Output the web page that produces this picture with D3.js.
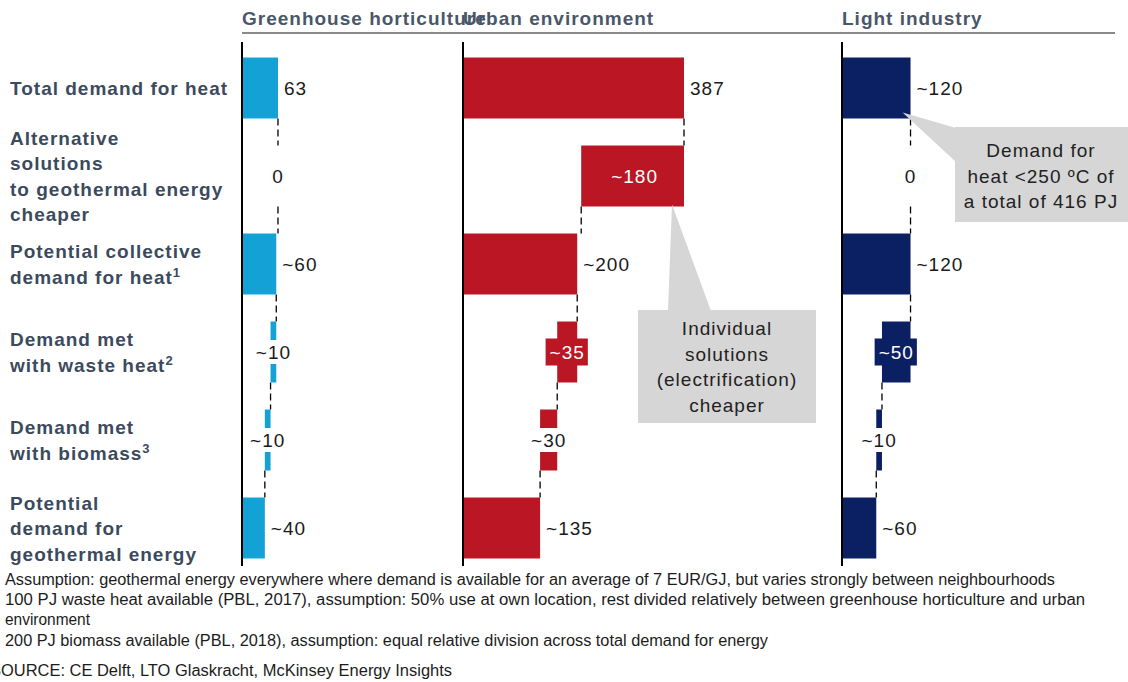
<!DOCTYPE html>
<html lang="en">
<head>
  <meta charset="UTF-8">
  <title>Geothermal heat demand waterfall</title>
  <script src="https://d3js.org/d3.v7.min.js"></script>
  <style>
    body {
      margin: 0;
      background: #fff;
      font-family: Arial, "Liberation Sans", sans-serif;
    }
    svg text {
      font-family: Arial, "Liberation Sans", sans-serif;
    }
    .header {
      font-size: 19px;
      font-weight: bold;
      fill: #4a5769;
      letter-spacing: 1px;
    }
    .rowlabel {
      font-size: 19px;
      font-weight: bold;
      fill: #3c4a5d;
      letter-spacing: 1px;
    }
    .value {
      font-size: 19px;
      fill: #1a1a1a;
      letter-spacing: 1px;
    }
    .callout text {
      font-size: 19px;
      fill: #222;
      letter-spacing: 1px;
    }
    .connector {
      stroke: #000;
      stroke-width: 1.3;
      stroke-dasharray: 7,4;
    }
    .note {
      font-size: 16px;
      fill: #1c1c1c;
    }
  </style>
</head>
<body>
<div id="chart"></div>
<script>
  // data
  const sectors = ["Greenhouse horticulture", "Urban environment", "Light industry"];
  const sectorColors = ["#14a2d6", "#bb1623", "#0b2062"];

  const rowLabels = [
    ["Total demand for heat"],
    ["Alternative", "solutions", "to geothermal energy", "cheaper"],
    ["Potential collective", "demand for heat"],
    ["Demand met", "with waste heat"],
    ["Demand met", "with biomass"],
    ["Potential", "demand for", "geothermal energy"]
  ];
  const rowNotes = ["", "", "1", "2", "3", ""];
  const rowKinds = ["total", "step", "total", "step", "step", "total"];

  const greenhouse = [63, 0, 60, 10, 10, 40];
  const urban = [387, 180, 200, 35, 30, 135];
  const light = [120, 0, 120, 50, 10, 60];

  const greenhouseLabels = ["63", "0", "~60", "~10", "~10", "~40"];
  const urbanLabels = ["387", "~180", "~200", "~35", "~30", "~135"];
  const lightLabels = ["~120", "0", "~120", "~50", "~10", "~60"];

  const calloutUrban = ["Individual", "solutions", "(electrification)", "cheaper"];
  const calloutLight = ["Demand for", "heat <250 \u00baC of", "a total of 416 PJ"];

  const footnotes = [
    "Assumption: geothermal energy everywhere where demand is available for an average of 7 EUR/GJ, but varies strongly between neighbourhoods",
    "100 PJ waste heat available (PBL, 2017), assumption: 50% use at own location, rest divided relatively between greenhouse horticulture and urban",
    "environment",
    "200 PJ biomass available (PBL, 2018), assumption: equal relative division across total demand for energy"
  ];
  const source = "SOURCE: CE Delft, LTO Glaskracht, McKinsey Energy Insights";

  const series = [greenhouse, urban, light];
  const seriesLabels = [greenhouseLabels, urbanLabels, lightLabels];

  // layout
  const width = 1128, height = 682;
  const panelX = [242, 463, 842];
  const axisTop = 42, axisBottom = 566;

  const svg = d3.select("#chart").append("svg")
    .attr("width", width)
    .attr("height", height);

  const x = d3.scaleLinear().domain([0, 387]).range([0, 221]);
  const y = d3.scaleBand()
    .domain(d3.range(rowLabels.length))
    .range([44, 572])
    .paddingInner(0.307)
    .paddingOuter(0.1535);
  const bw = y.bandwidth();
  const mid = i => y(i) + bw / 2;

  // header rule + titles
  svg.append("line")
    .attr("x1", 242).attr("x2", 1115)
    .attr("y1", 33).attr("y2", 33)
    .attr("stroke", "#8a8a8a").attr("stroke-width", 2);

  svg.selectAll(".header")
    .data(sectors)
    .enter()
    .append("text")
    .attr("class", "header")
    .attr("x", (d, i) => panelX[i])
    .attr("y", 25)
    .text(d => d);

  // row labels
  const lineH = 25.5;
  rowLabels.forEach((lines, i) => {
    const t = svg.append("text")
      .attr("class", "rowlabel")
      .attr("x", 10)
      .attr("y", mid(i) - (lines.length - 1) * lineH / 2 + 7);
    lines.forEach((ln, k) => {
      t.append("tspan")
        .attr("x", 10)
        .attr("dy", k === 0 ? 0 : lineH)
        .text(ln);
      if (k === lines.length - 1 && rowNotes[i]) {
        t.append("tspan")
          .attr("dy", -7)
          .attr("font-size", "13px")
          .text(rowNotes[i]);
      }
    });
  });

  function waterfall(vals) {
    let level = 0;
    return vals.map((v, i) => {
      let x0, x1;
      if (rowKinds[i] === "total") { x0 = 0; x1 = v; level = v; }
      else { x0 = level - v; x1 = level; level = level - v; }
      return { i, v, x0, x1, level };
    });
  }

  series.forEach((vals, s) => {
    const g = svg.append("g").attr("transform", `translate(${panelX[s]},0)`);
    const color = sectorColors[s];
    const rows = waterfall(vals);

    // connectors
    g.selectAll(".connector")
      .data(rows.slice(0, -1))
      .enter()
      .append("line")
      .attr("class", "connector")
      .attr("x1", d => x(d.level)).attr("x2", d => x(d.level))
      .attr("y1", d => y(d.i) + bw)
      .attr("y2", d => y(d.i + 1));

    // bars
    g.selectAll(".bar")
      .data(rows.filter(d => d.v > 0))
      .enter()
      .append("rect")
      .attr("class", "bar")
      .attr("x", d => x(d.x0))
      .attr("y", d => y(d.i))
      .attr("width", d => x(d.x1) - x(d.x0))
      .attr("height", bw)
      .attr("fill", color);

    // axis line
    g.append("line")
      .attr("x1", 0).attr("x2", 0)
      .attr("y1", axisTop).attr("y2", axisBottom)
      .attr("stroke", "#000").attr("stroke-width", 2);

    // value labels
    rows.forEach(d => {
      const lbl = seriesLabels[s][d.i];
      const cy = mid(d.i) + 7;
      if (d.v === 0) {
        g.append("text").attr("class", "value")
          .attr("x", x(d.level)).attr("y", cy)
          .attr("text-anchor", "middle").text(lbl);
        return;
      }
      if (rowKinds[d.i] === "total") {
        g.append("text").attr("class", "value")
          .attr("x", x(d.x1) + 6).attr("y", cy)
          .text(lbl);
        return;
      }
      const cx = (x(d.x0) + x(d.x1)) / 2;
      const w = x(d.x1) - x(d.x0);
      if (w > 60) {
        g.append("text").attr("class", "value")
          .attr("x", cx + 2).attr("y", cy)
          .attr("text-anchor", "middle")
          .style("fill", "#fff")
          .text(lbl);
        return;
      }
      // small steps: coloured badge or white knock-out behind the label
      const badge = d.v >= 35;
      const bg = g.append("rect");
      const t = g.append("text").attr("class", "value")
        .attr("x", cx).attr("y", cy)
        .attr("text-anchor", "middle")
        .text(lbl);
      if (badge) t.style("fill", "#fff");
      const tw = t.node().getComputedTextLength();
      const bh = badge ? 27 : 24;
      bg.attr("x", cx - tw / 2 - (badge ? 4 : 2))
        .attr("width", tw + (badge ? 7 : 4))
        .attr("y", mid(d.i) - bh / 2)
        .attr("height", bh)
        .attr("fill", badge ? color : "#fff");
    });
  });

  // callouts
  const urbanRows = waterfall(urban);
  const lightRows = waterfall(light);
  const callGray = "#d6d6d6";

  const c1 = svg.append("g").attr("class", "callout");
  const tip1 = [panelX[1] + x(urbanRows[1].x1) - 12, y(1) + bw - 2];
  c1.append("polygon")
    .attr("points", [[668, 311], [711, 311], tip1].map(p => p.join(",")).join(" "))
    .attr("fill", callGray);
  c1.append("rect")
    .attr("x", 638).attr("y", 310).attr("width", 178).attr("height", 113)
    .attr("fill", callGray);
  c1.selectAll("text")
    .data(calloutUrban)
    .enter()
    .append("text")
    .attr("x", 727)
    .attr("y", (d, k) => 335 + k * 25.7)
    .attr("text-anchor", "middle")
    .text(d => d);

  const c2 = svg.append("g").attr("class", "callout");
  const tip2 = [panelX[2] + x(lightRows[0].x1) - 8, y(0) + bw - 6];
  c2.append("polygon")
    .attr("points", [[956, 128], [956, 162], tip2].map(p => p.join(",")).join(" "))
    .attr("fill", callGray);
  c2.append("rect")
    .attr("x", 955).attr("y", 127).attr("width", 173).attr("height", 95)
    .attr("fill", callGray);
  c2.selectAll("text")
    .data(calloutLight)
    .enter()
    .append("text")
    .attr("x", 1041)
    .attr("y", (d, k) => 157 + k * 25.5)
    .attr("text-anchor", "middle")
    .text(d => d);

  // footnotes
  const noteY = [585, 605, 625, 646];
  const noteLen = [1050, 1080, 85, 763];
  svg.selectAll(".note")
    .data(footnotes)
    .enter()
    .append("text")
    .attr("class", "note")
    .attr("x", 5)
    .attr("y", (d, i) => noteY[i])
    .attr("textLength", (d, i) => noteLen[i])
    .attr("lengthAdjust", "spacingAndGlyphs")
    .text(d => d);

  svg.append("text")
    .attr("class", "note")
    .attr("x", -10)
    .attr("y", 676)
    .attr("textLength", 462)
    .attr("lengthAdjust", "spacingAndGlyphs")
    .text(source);
</script>
</body>
</html>
